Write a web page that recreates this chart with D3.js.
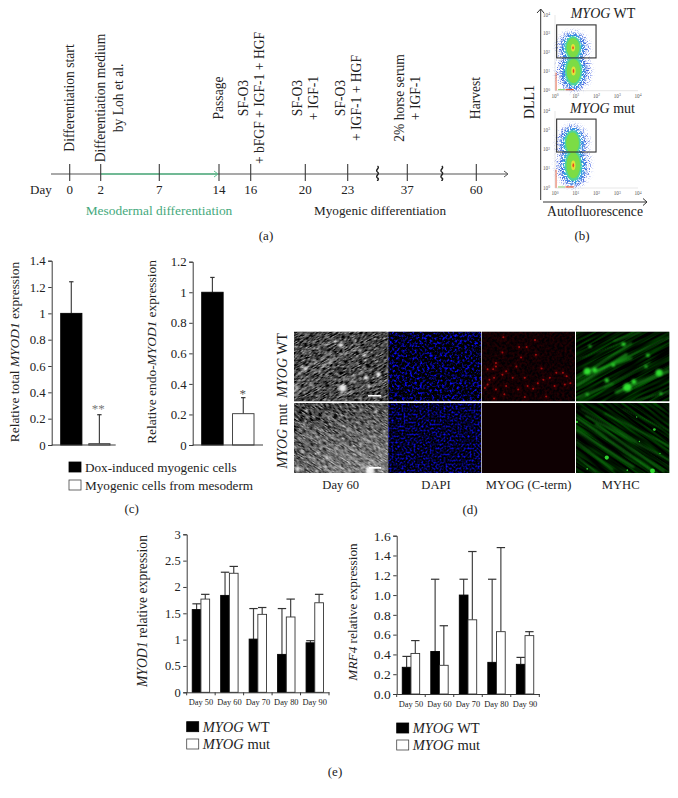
<!DOCTYPE html>
<html>
<head>
<meta charset="utf-8">
<script src="https://cdnjs.cloudflare.com/ajax/libs/d3/7.8.5/d3.min.js"></script>
<style>
html, body { margin: 0; background: #fff; }
svg { display: block; }
text { font-family: "Liberation Serif", serif; fill: #222; }
</style>
</head>
<body>
<div id="chart"></div>
<script>
// (a) timeline
const timelineDays = [0, 2, 7, 14, 16, 20, 23, 37, 60];
const breakDays = [30, 48.5];
const milestoneDays = [0, 2, 14, 16, 20, 23, 37, 60];
const milestoneLabels = [
    ["Differentiation start"],
    ["Differentiation medium", "by Loh et al."],
    ["Passage"],
    ["SF-O3", "+ bFGF + IGF-1 + HGF"],
    ["SF-O3", "+ IGF-1"],
    ["SF-O3", "+ IGF-1 + HGF"],
    ["2% horse serum", "+ IGF-1"],
    ["Harvest"]
];

// (c) bars
const cCategories = ["Dox-induced myogenic cells", "Myogenic cells from mesoderm"];
const cFills = ["#000", "#fff"];
const totalMyod1 = [1, 0.01];
const totalMyod1Err = [1.24, 0.23];
const endoMyod1 = [1, 0.205];
const endoMyod1Err = [1.097, 0.31];
const totalTicks = [0, 0.2, 0.4, 0.6, 0.8, 1, 1.2, 1.4];
const endoTicks = [0, 0.2, 0.4, 0.6, 0.8, 1, 1.2];

// (e) bars
const eDays = ["Day 50", "Day 60", "Day 70", "Day 80", "Day 90"];
const myod1Wt = [1.57, 1.84, 1.01, 0.72, 0.94];
const myod1WtErr = [1.68, 2.28, 1.59, 1.59, 0.98];
const myod1Mut = [1.77, 2.26, 1.48, 1.43, 1.70];
const myod1MutErr = [1.86, 2.39, 1.61, 1.77, 1.86];
const mrf4Wt = [0.27, 0.43, 1.0, 0.32, 0.30];
const mrf4WtErr = [0.38, 1.16, 1.16, 1.16, 0.37];
const mrf4Mut = [0.41, 0.29, 0.75, 0.63, 0.59];
const mrf4MutErr = [0.54, 0.69, 1.44, 1.48, 0.63];
const myod1Ticks = [0, 0.5, 1, 1.5, 2, 2.5, 3];
const mrf4Ticks = [0, 0.2, 0.4, 0.6, 0.8, 1, 1.2, 1.4, 1.6];

// (b) flow plots, blobs are [x value, y value, x decades, y decades, layers]
const flowWtBlobs = [[7.4, 186, 0.62, 0.8, 6], [7.8, 11, 0.66, 1.0, 6]];
const flowMutBlobs = [[7.0, 215, 0.62, 0.88, 4], [7.6, 15, 0.66, 1.05, 6]];
const flowWtGate = [1.2, 3000, 95, 54];
const flowMutGate = [1.2, 3800, 95, 74];
const flowDecades = [1, 10, 100, 1000, 10000];

// (d) micrographs, all read in percent of a panel: [x, y, radius]
const phaseWtSpots = [[50, 19, 3], [75, 34, 2.4], [12, 53, 2.6], [90, 61, 3], [77, 66, 3], [52, 81, 5], [3, 81, 2.5], [64, 72, 2]];
const phaseMutSpots = [[81, 97, 6], [35, 77, 2], [85, 48, 1.5], [58, 38, 1.5], [4, 94, 3]];
const phaseWtStreaks = [[0, 78, 45, 38], [2, 62, 40, 30], [0, 92, 28, 66], [30, 48, 70, 22], [48, 92, 100, 70], [8, 30, 48, 12], [52, 70, 78, 55]];
const phaseMutStreaks = [[0, 25, 82, 97], [15, 28, 90, 88], [0, 45, 55, 98], [0, 60, 40, 100], [30, 15, 100, 70], [5, 38, 60, 85]];
const redSpots = [[57, 12], [48, 22], [40, 22], [23, 8], [22, 30], [42, 37], [58, 33], [15, 45], [15, 50], [12, 54], [6, 54], [26, 57], [37, 50], [64, 53], [22, 62], [13, 66], [8, 69], [3, 81], [6, 76], [15, 83], [26, 78], [24, 90], [39, 83], [49, 78], [55, 82], [60, 74], [66, 69], [73, 66], [80, 59], [87, 59], [91, 64], [95, 74], [89, 76], [78, 78], [69, 93], [46, 94], [13, 96], [33, 66], [46, 66]];
const greenWtSpots = [[12, 57, 5], [55, 80, 6], [89, 59, 5], [33, 70, 3], [77, 34, 2.5], [40, 48, 2.5], [51, 18, 3], [15, 21, 2], [75, 50, 2], [91, 89, 2], [12, 90, 2], [62, 72, 3.5], [20, 55, 3.5]];
const greenMutSpots = [[82, 97, 3.5], [84, 38, 2], [1, 27, 1.5], [33, 78, 3], [68, 55, 1], [12, 94, 1.2], [90, 72, 1], [65, 20, 1], [55, 96, 1.2]];
const greenWtStreaks = [[0, 78, 55, 32, 3.2], [0, 68, 60, 16, 2], [0, 40, 50, 16, 1], [20, 58, 100, 8, 1.4], [0, 96, 40, 74, 2], [42, 88, 100, 56, 3.6], [60, 100, 100, 86, 1.2], [10, 60, 60, 38, 2.2], [30, 80, 80, 44, 1.2], [40, 14, 70, 0, 1.6]];
const greenMutStreaks = [[0, 20, 82, 97, 2.4], [10, 18, 100, 82, 1.6], [0, 38, 62, 92, 2.2], [30, 14, 100, 62, 1.4], [0, 55, 40, 96, 1.6], [20, 30, 95, 98, 2], [50, 8, 100, 40, 1], [5, 8, 65, 55, 1.2], [0, 75, 22, 100, 1.2]];

const width = 678,
    height = 798,
    darkLine = "#3a3a3a",
    serif = "Liberation Serif";

const svg = d3.select("#chart").append("svg")
    .attr("width", width)
    .attr("height", height)
    .attr("viewBox", [0, 0, width, height]);

const defs = svg.append("defs");

function addTexture(id, freq, seed, matrix) {
    const f = defs.append("filter").attr("id", id)
        .attr("x", 0).attr("y", 0).attr("width", 1).attr("height", 1)
        .attr("color-interpolation-filters", "sRGB");
    f.append("feTurbulence").attr("type", "fractalNoise")
        .attr("baseFrequency", freq).attr("numOctaves", 2).attr("seed", seed);
    f.append("feColorMatrix").attr("type", "matrix").attr("values", matrix);
}

addTexture("phaseTex", "0.22 0.9", 4, "1.5 0 0 0 -0.48  1.5 0 0 0 -0.48  1.5 0 0 0 -0.48  0 0 0 0 1");
addTexture("dapiWt", 0.4, 7, "0.1 0 0 0 -0.04  0.1 0 0 0 -0.04  3.2 0 0 0 -1.5  0 0 0 0 1");
addTexture("dapiMut", 0.5, 11, "0.1 0 0 0 -0.04  0.1 0 0 0 -0.04  2.4 0 0 0 -1.02  0 0 0 0 1");
addTexture("redTex", 0.4, 9, "0.3 0 0 0 -0.09  0 0 0 0 0  0 0 0 0 0.01  0 0 0 0 1");
addTexture("greenTex", "0.025 0.45", 5, "0 0 0 0 0  0.7 0 0 0 -0.27  0 0 0 0 0  0 0 0 0 1");

defs.append("filter").attr("id", "blurS").append("feGaussianBlur").attr("stdDeviation", 0.7);
defs.append("filter").attr("id", "blurM").append("feGaussianBlur").attr("stdDeviation", 1.3);

// dotted look for the flow plots
function addSpeckle(id, blur, cut, seed) {
    const f = defs.append("filter").attr("id", id)
        .attr("x", "-30%").attr("y", "-30%").attr("width", "160%").attr("height", "160%")
        .attr("color-interpolation-filters", "sRGB");
    f.append("feGaussianBlur").attr("in", "SourceGraphic").attr("stdDeviation", blur).attr("result", "soft");
    f.append("feTurbulence").attr("type", "fractalNoise").attr("baseFrequency", 0.85).attr("numOctaves", 1).attr("seed", seed);
    f.append("feColorMatrix").attr("type", "matrix").attr("values", "0 0 0 0 1  0 0 0 0 1  0 0 0 0 1  9 0 0 0 " + cut).attr("result", "dots");
    f.append("feComposite").attr("in", "soft").attr("in2", "dots").attr("operator", "in");
}
addSpeckle("speckleSparse", 2.2, -4.8, 2);
addSpeckle("speckleDense", 1.6, -3.9, 6);

const phaseGrad = defs.append("linearGradient").attr("id", "phaseMutGrad")
    .attr("x1", 0).attr("y1", 0).attr("x2", 0.7).attr("y2", 1);
phaseGrad.append("stop").attr("offset", 0.2).attr("stop-color", "#fff").attr("stop-opacity", 0);
phaseGrad.append("stop").attr("offset", 1).attr("stop-color", "#fff").attr("stop-opacity", 0.3);

function label(txt, x, y, size, anchor, rotate) {
    const t = svg.append("text")
        .attr("font-size", size)
        .attr("text-anchor", anchor || "middle")
        .attr("transform", "translate(" + x + "," + y + ")" + (rotate ? " rotate(-90)" : ""));
    // pieces are [text, italic]
    (Array.isArray(txt) ? txt : [[txt, false]]).forEach(p => {
        t.append("tspan").attr("font-style", p[1] ? "italic" : "normal").text(p[0]);
    });
    return t;
}

// ---------- (a) ----------
const dayX = d3.scaleLinear()
    .domain(timelineDays)
    .range([69.7, 100.7, 159.3, 219, 250.7, 305.3, 347.7, 407.3, 476.3]);
const timelineY = 174;

svg.append("line").attr("x1", 51).attr("x2", 507).attr("y1", timelineY).attr("y2", timelineY)
    .attr("stroke", "#555").attr("stroke-width", 1.2);
svg.append("path").attr("d", "M504,171 L508,174 L504,177").attr("fill", "none").attr("stroke", "#555");

svg.append("line").attr("x1", dayX(2)).attr("x2", dayX(14) - 2).attr("y1", timelineY).attr("y2", timelineY)
    .attr("stroke", "#5fbf8f").attr("stroke-width", 1.3);
svg.append("path").attr("d", `M${dayX(14) - 5},171 L${dayX(14) - 1},174 L${dayX(14) - 5},177`)
    .attr("fill", "none").attr("stroke", "#5fbf8f");

svg.selectAll(".day-tick").data(timelineDays).enter().append("line")
    .attr("class", "day-tick")
    .attr("x1", d => dayX(d)).attr("x2", d => dayX(d))
    .attr("y1", 164).attr("y2", 181)
    .attr("stroke", darkLine).attr("stroke-width", 1.1);

svg.selectAll(".day-label").data(timelineDays).enter().append("text")
    .attr("class", "day-label")
    .attr("x", d => dayX(d)).attr("y", 194)
    .attr("text-anchor", "middle").attr("font-size", 13)
    .text(d => d);
label("Day", 30, 194, 13, "start");

svg.selectAll(".break-mark").data(breakDays).enter().append("path")
    .attr("class", "break-mark")
    .attr("transform", d => "translate(" + dayX(d) + ",173)")
    .attr("d", "M0,-7 C3,-5 -3,-3 0,-1 C3,1 -3,3 0,5 C2,6 0,7 0,8")
    .attr("fill", "none").attr("stroke", "#222").attr("stroke-width", 1.4);

milestoneDays.forEach((day, i) => {
    const lines = milestoneLabels[i];
    let dx = lines.length === 1 ? [4] : [-3, 13];
    if (day === 2) dx = [4.6, 22];
    lines.forEach((line, j) => {
        label(line, dayX(day) + dx[j], 98, 13.6, "middle", true);
    });
});

label("Mesodermal differentiation", 159, 215, 13.4, "middle").attr("style", "fill:#45a97c");
label("Myogenic differentiation", 380, 215, 13.2);
label("(a)", 266, 240, 13);

// ---------- (b) ----------
// x size, y size, colour, group
const flowLayers = [
    [1.3, 1.1, "#3f5fe0", "sparse"],
    [1, 1, "#3f6ae0", "dense"],
    [0.8, 0.88, "#36b4e0", "dense"],
    [0.62, 0.76, "#4fd49a", "core"],
    [0.5, 0.64, "#7bdc45", "core"],
    [0.16, 0.24, "#e2e23a", "core"],
    [0.06, 0.1, "#e8481f", "core"]
];

function flowPlot(blobs, gate, y0, y1) {
    const x = d3.scaleLog().domain([1, 10000]).range([555, 638]);
    const y = d3.scaleLog().domain([1, 10000]).range([y0, y1]);
    const g = svg.append("g");

    const groups = {
        sparse: g.append("g").attr("filter", "url(#speckleSparse)"),
        dense: g.append("g").attr("filter", "url(#speckleDense)"),
        core: g.append("g").attr("filter", "url(#blurS)")
    };
    flowLayers.forEach((l, i) => {
        blobs.forEach(b => {
            if (i >= b[4] + 1) return;
            const rx = x(b[0] * Math.pow(10, b[2])) - x(b[0]),
                ry = y(b[1]) - y(b[1] * Math.pow(10, b[3]));
            groups[l[3]].append("ellipse")
                .attr("cx", x(b[0])).attr("cy", y(b[1]))
                .attr("rx", rx * l[0]).attr("ry", ry * l[1])
                .attr("fill", l[2]);
        });
    });

    // events piled up on the axes
    g.append("line").attr("x1", x(1) + 1).attr("x2", x(1) + 1).attr("y1", y(9)).attr("y2", y(1))
        .attr("stroke", "#e85a3a").attr("stroke-width", 1);
    g.append("line").attr("x1", x(1.4)).attr("x2", x(3)).attr("y1", y(1) - 1).attr("y2", y(1) - 1)
        .attr("stroke", "#7fce5a").attr("stroke-width", 1);
    g.append("line").attr("x1", x(3.2)).attr("x2", x(8)).attr("y1", y(1) - 1).attr("y2", y(1) - 1)
        .attr("stroke", "#e8481f").attr("stroke-width", 1.2);

    g.append("path")
        .attr("d", `M${x(1)},${y(10000)}V${y(1)}H${x(10000)}`)
        .attr("fill", "none").attr("stroke", "#ccc").attr("stroke-width", 0.5);

    flowDecades.forEach((d, i) => {
        const tx = g.append("text").attr("x", x(d)).attr("y", y0 + 7)
            .attr("text-anchor", "middle").attr("font-size", 5.2).attr("style", "fill:#555");
        tx.append("tspan").text("10");
        tx.append("tspan").attr("dy", -1.5).attr("font-size", 3.6).text(i);
        const ty = g.append("text").attr("x", 550).attr("y", y(d) + 1.5)
            .attr("text-anchor", "end").attr("font-size", 5.2).attr("style", "fill:#555");
        ty.append("tspan").text("10");
        ty.append("tspan").attr("dy", -1.5).attr("font-size", 3.6).text(i);
    });

    g.append("rect")
        .attr("x", x(gate[0])).attr("y", y(gate[1]))
        .attr("width", x(gate[2]) - x(gate[0]))
        .attr("height", y(gate[3]) - y(gate[1]))
        .attr("fill", "none").attr("stroke", "#333").attr("stroke-width", 1.1);
}

flowPlot(flowWtBlobs, flowWtGate, 90.7, 15);
flowPlot(flowMutBlobs, flowMutGate, 188, 111);

svg.append("path").attr("d", "M540.7,200 V9 M537,13 L540.7,9 L544,13").attr("fill", "none")
    .attr("stroke", "#333").attr("stroke-width", 1);
svg.append("path").attr("d", "M543,202 H647 M643,198.5 L647,202 L643,205.5").attr("fill", "none")
    .attr("stroke", "#333").attr("stroke-width", 1);

label([["MYOG", true], [" WT", false]], 570.7, 18, 14, "start");
label([["MYOG", true], [" mut", false]], 570, 113, 14, "start");
label("DLL1", 534, 102, 14, "middle", true);
label("Autofluorescence", 595, 216, 13.6);
label("(b)", 582, 240, 13);

// ---------- bar helpers ----------
function yAxis(scale, ticks, x, fmt, size) {
    const g = svg.append("g")
        .attr("transform", "translate(" + x + ",0)")
        .call(d3.axisLeft(scale).tickValues(ticks).tickSize(3.5).tickPadding(2.5).tickFormat(fmt));
    g.selectAll("path,line").attr("stroke", darkLine).attr("stroke-width", 1);
    g.selectAll("text").attr("font-size", size).attr("font-family", serif).attr("fill", "#222");
    return g;
}

function bars(values, errs, x, w, y, fills, capHalf) {
    const g = svg.append("g");
    values.forEach((v, i) => {
        const cx = x(i) + w / 2;
        g.append("line").attr("x1", cx).attr("x2", cx).attr("y1", y(v)).attr("y2", y(errs[i]))
            .attr("stroke", "#444").attr("stroke-width", 1.2);
        g.append("line").attr("x1", cx - capHalf).attr("x2", cx + capHalf)
            .attr("y1", y(errs[i])).attr("y2", y(errs[i]))
            .attr("stroke", "#333").attr("stroke-width", 1.2);
        const fill = Array.isArray(fills) ? fills[i] : fills;
        g.append("rect").attr("x", x(i)).attr("y", y(v))
            .attr("width", w).attr("height", Math.max(0, y(0) - y(v)))
            .attr("fill", fill).attr("stroke", fill === "#fff" ? "#333" : "#000").attr("stroke-width", 0.9);
    });
}

function legend(x, ys, names, size, textDx, baseDy) {
    names.forEach((n, i) => {
        svg.append("rect").attr("x", x).attr("y", ys[i]).attr("width", 12).attr("height", 10)
            .attr("fill", i === 0 ? "#000" : "#fff").attr("stroke", i === 0 ? "#000" : "#444").attr("stroke-width", 0.8);
        label(n, x + textDx, ys[i] + baseDy, size, "start");
    });
}

// ---------- (c) ----------
const totalY = d3.scaleLinear().domain([0, 1.4]).range([445, 260.7]);
const endoY = d3.scaleLinear().domain([0, 1.2]).range([445, 261.7]);
const totalX = d3.scaleBand().domain(d3.range(2)).range([60.7, 110]).paddingInner(0.245);
const endoX = d3.scaleBand().domain(d3.range(2)).range([201.7, 254]).paddingInner(0.305);

bars(totalMyod1, totalMyod1Err, totalX, totalX.bandwidth(), totalY, cFills, 2.2);
bars(endoMyod1, endoMyod1Err, endoX, endoX.bandwidth(), endoY, cFills, 2.2);

yAxis(totalY, totalTicks, 51.7, d => d, 12.8);
yAxis(endoY, endoTicks, 192.7, d => d, 12.8);
svg.append("line").attr("x1", 51.7).attr("x2", 115.7).attr("y1", 445).attr("y2", 445).attr("stroke", darkLine);
svg.append("line").attr("x1", 192.7).attr("x2", 263).attr("y1", 445).attr("y2", 445).attr("stroke", darkLine);

label([["Relative total ", false], ["MYOD1", true], [" expression", false]], 18.7, 352, 13.4, "middle", true);
label([["Relative endo-", false], ["MYOD1", true], [" expression", false]], 156, 352, 13.4, "middle", true);
label("**", 98.3, 413, 13).attr("style", "fill:#777");
label("*", 242.7, 398, 13).attr("style", "fill:#555");

legend(69, [462, 480], cCategories, 13.2, 16, 10);
label("(c)", 131.7, 513, 13);

// ---------- (d) ----------
const colX = [[294, 387.7], [388.3, 481.3], [482, 575], [576, 669.3]];
const rowY = [[331.7, 401.3], [403, 473]];

function panel(col, row) {
    const x = d3.scaleLinear().domain([0, 100]).range(colX[col]);
    const y = d3.scaleLinear().domain([0, 100]).range(rowY[row]);
    const clipId = "clip" + col + row;
    defs.append("clipPath").attr("id", clipId).append("rect")
        .attr("x", x(0)).attr("y", y(0)).attr("width", x(100) - x(0)).attr("height", y(100) - y(0));
    const g = svg.append("g").attr("clip-path", "url(#" + clipId + ")");
    g.append("rect").attr("x", x(0)).attr("y", y(0)).attr("width", x(100) - x(0)).attr("height", y(100) - y(0))
        .attr("fill", "#000");
    return { g, x, y };
}

function texture(p, filterId, angle) {
    const cx = p.x(50), cy = p.y(50);
    p.g.append("g").attr("transform", `rotate(${angle} ${cx} ${cy})`)
        .append("rect").attr("x", cx - 70).attr("y", cy - 70).attr("width", 140).attr("height", 140)
        .attr("filter", "url(#" + filterId + ")");
}

function streaks(p, list, color, sw, op, filterId) {
    p.g.append("g").attr("filter", filterId ? "url(#" + filterId + ")" : null)
        .selectAll("line").data(list).enter().append("line")
        .attr("x1", d => p.x(d[0])).attr("y1", d => p.y(d[1]))
        .attr("x2", d => p.x(d[2])).attr("y2", d => p.y(d[3]))
        .attr("stroke", color).attr("stroke-opacity", op)
        .attr("stroke-width", d => d.length > 4 ? d[4] : sw);
}

function spots(p, list, color, op, filterId, minR, rScale) {
    p.g.append("g").attr("filter", "url(#" + filterId + ")")
        .selectAll("circle").data(list).enter().append("circle")
        .attr("cx", d => p.x(d[0])).attr("cy", d => p.y(d[1]))
        .attr("r", d => d.length > 2 ? d[2] * (rScale || 1) : minR)
        .attr("fill", color).attr("fill-opacity", op);
}

function scaleBar(p, x0, x1, yv) {
    p.g.append("line").attr("x1", p.x(x0)).attr("x2", p.x(x1)).attr("y1", p.y(yv)).attr("y2", p.y(yv))
        .attr("stroke", "#fff").attr("stroke-width", 1.6);
}

// phase contrast
const phaseWt = panel(0, 0);
texture(phaseWt, "phaseTex", -28);
streaks(phaseWt, phaseWtStreaks, "#fff", 2.6, 0.24, "blurS");
spots(phaseWt, phaseWtSpots, "#fff", 0.9, "blurM", 1, 0.75);
scaleBar(phaseWt, 79, 93, 92);

const phaseMut = panel(0, 1);
texture(phaseMut, "phaseTex", 32);
phaseMut.g.append("rect").attr("x", 294).attr("y", 403).attr("width", 94).attr("height", 70).attr("fill", "url(#phaseMutGrad)");
streaks(phaseMut, phaseMutStreaks, "#fff", 2.6, 0.22, "blurS");
spots(phaseMut, phaseMutSpots, "#fff", 0.9, "blurM", 1, 0.75);
scaleBar(phaseMut, 80, 93, 92.7);

// DAPI
texture(panel(1, 0), "dapiWt", 0);
texture(panel(1, 1), "dapiMut", 0);

// MYOG
const redWt = panel(2, 0);
texture(redWt, "redTex", 0);
spots(redWt, redSpots, "#a01010", 0.14, "blurM", 3);
spots(redWt, redSpots, "#c81212", 0.8, "blurS", 1);
panel(2, 1).g.append("rect").attr("x", 482).attr("y", 403).attr("width", 94).attr("height", 70).attr("fill", "#0e0002");

// MYHC
const greenWt = panel(3, 0);
texture(greenWt, "greenTex", -28);
streaks(greenWt, greenWtStreaks, "#22b822", 1, 0.6, "blurM");
spots(greenWt, greenWtSpots, "#35f035", 0.9, "blurM", 1, 0.7);

const greenMut = panel(3, 1);
texture(greenMut, "greenTex", 34);
streaks(greenMut, greenMutStreaks, "#20a820", 1, 0.6, "blurM");
spots(greenMut, greenMutSpots, "#35e835", 0.9, "blurS", 1, 0.7);

label([["MYOG", true], [" WT", false]], 286.7, 365.3, 14, "middle", true);
label([["MYOG", true], [" mut", false]], 286.7, 436, 14, "middle", true);
label("Day 60", 340.7, 489, 12.6);
label("DAPI", 436, 489, 12.6);
label("MYOG (C-term)", 528.7, 489, 12.6);
label("MYHC", 620.7, 489, 12.6);
label("(d)", 470, 514, 13);

// ---------- (e) ----------
function groupedChart(wt, wtErr, mut, mutErr, ticks, yMax, fmt, x0, x1, y0, y1, size) {
    const band = d3.scaleBand().domain(eDays).range([x0, x1]);
    const y = d3.scaleLinear().domain([0, yMax]).range([y0, y1]);
    const barW = 8.7;
    const bx = i => band(eDays[i]) + band.bandwidth() / 2;

    bars(wt, wtErr, i => bx(i) - barW, barW, y, "#000", 4.2);
    bars(mut, mutErr, bx, barW, y, "#fff", 4.2);
    yAxis(y, ticks, x0, fmt, size);

    const axis = svg.append("g")
        .attr("transform", "translate(0," + y0 + ")")
        .call(d3.axisBottom(band).tickSize(0).tickPadding(7));
    axis.select(".domain").attr("stroke", darkLine);
    axis.selectAll("text").attr("font-size", 8.4).attr("font-family", serif).attr("fill", "#222");
    svg.selectAll(null).data(eDays.concat(["end"])).enter().append("line")
        .attr("x1", (d, i) => x0 + i * band.step()).attr("x2", (d, i) => x0 + i * band.step())
        .attr("y1", y0).attr("y2", y0 + 3)
        .attr("stroke", darkLine);
}

groupedChart(myod1Wt, myod1WtErr, myod1Mut, myod1MutErr, myod1Ticks, 3, d => d, 186.7, 329, 692.3, 534.3, 12.5);
groupedChart(mrf4Wt, mrf4WtErr, mrf4Mut, mrf4MutErr, mrf4Ticks, 1.6, d3.format(".1f"), 396.7, 539.3, 694, 535.7, 13.5);

label([["MYOD1", true], [" relative expression", false]], 146.7, 611, 13.7, "middle", true);
label([["MRF4", true], [" relative expression", false]], 357.3, 612, 13.3, "middle", true);

const eNames = [[["MYOG", true], [" WT", false]], [["MYOG", true], [" mut", false]]];
legend(186.7, [721.7, 739], eNames, 14.5, 16, 10);
legend(396.7, [723, 740], eNames, 14.5, 16, 10);
label("(e)", 335, 776, 13);
</script>
</body>
</html>
